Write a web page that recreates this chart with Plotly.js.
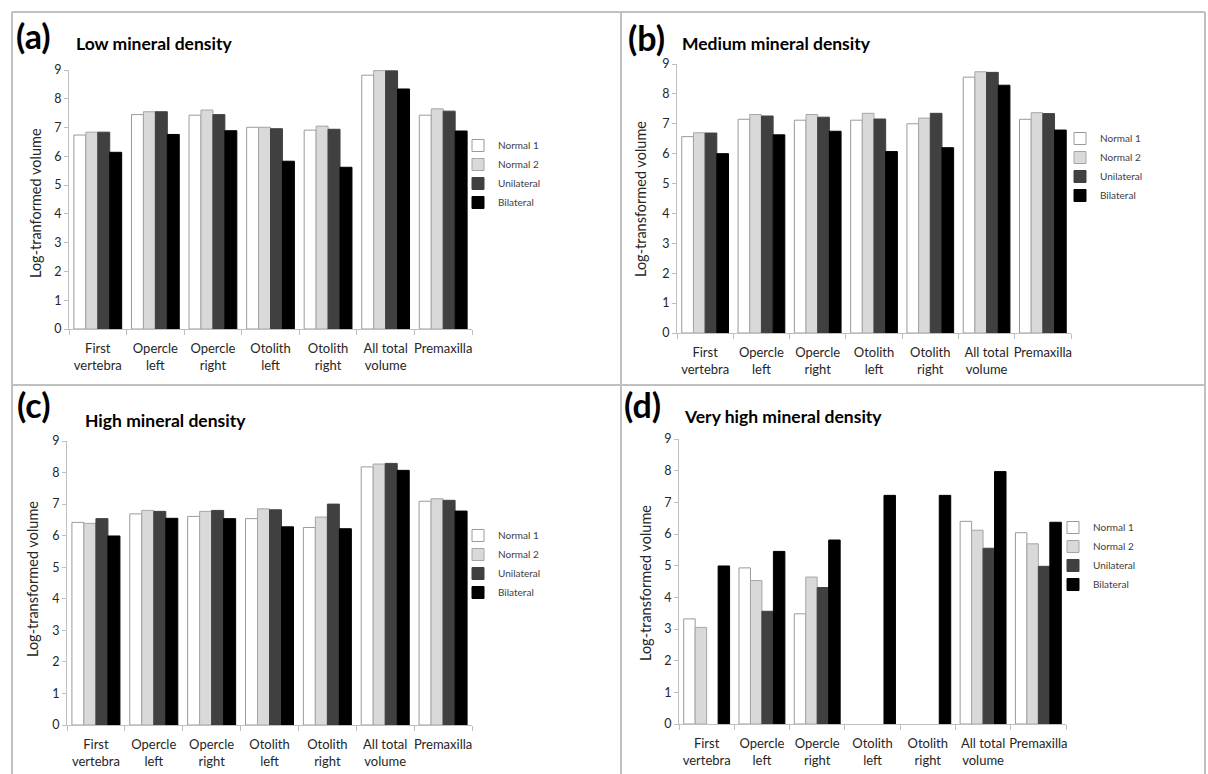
<!DOCTYPE html>
<html>
<head>
<meta charset="utf-8">
<script src="https://cdn.plot.ly/plotly-3.0.1.min.js"></script>
<style>
html,body{margin:0;padding:0;background:#fff;}
#chart{width:1208px;height:774px;}
</style>
</head>
<body>
<div id="chart"></div>
<script>
const categories = ['First<br>vertebra', 'Opercle<br>left', 'Opercle<br>right', 'Otolith<br>left', 'Otolith<br>right', 'All total<br>volume', 'Premaxilla'];
const seriesNames = ['Normal 1', 'Normal 2', 'Unilateral', 'Bilateral'];

const lowN1  = [6.74, 7.45, 7.43, 7.01, 6.91, 8.82, 7.43];
const lowN2  = [6.84, 7.55, 7.61, 7.01, 7.05, 8.98, 7.65];
const lowUni = [6.84, 7.55, 7.45, 6.96, 6.94, 8.97, 7.57];
const lowBi  = [6.14, 6.76, 6.89, 5.83, 5.62, 8.34, 6.88];

const medN1  = [6.57, 7.15, 7.12, 7.12, 7.00, 8.56, 7.15];
const medN2  = [6.70, 7.31, 7.31, 7.35, 7.19, 8.74, 7.37];
const medUni = [6.69, 7.26, 7.22, 7.16, 7.35, 8.72, 7.34];
const medBi  = [6.00, 6.63, 6.75, 6.07, 6.20, 8.29, 6.79];

const highN1  = [6.42, 6.69, 6.61, 6.54, 6.26, 8.18, 7.09];
const highN2  = [6.39, 6.80, 6.77, 6.85, 6.59, 8.27, 7.17];
const highUni = [6.54, 6.77, 6.80, 6.82, 7.00, 8.29, 7.12];
const highBi  = [5.99, 6.55, 6.54, 6.28, 6.22, 8.07, 6.78];

// null = no bar shown in the reference
const vhN1  = [3.32, 4.93, 3.48, null, null, 6.40, 6.04];
const vhN2  = [3.05, 4.53, 4.64, null, null, 6.12, 5.69];
const vhUni = [null, 3.56, 4.31, null, null, 5.55, 4.98];
const vhBi  = [4.99, 5.45, 5.81, 7.22, 7.22, 7.97, 6.37];

const panelLetters = ['(a)', '(b)', '(c)', '(d)'];
const panelTitles = ['Low mineral density', 'Medium mineral density', 'High mineral density', 'Very high mineral density'];
const yTitles = ['Log-tranformed volume', 'Log-transformed volume', 'Log-transformed volume', 'Log-transformed volume'];
const panelData = [
  [lowN1, lowN2, lowUni, lowBi],
  [medN1, medN2, medUni, medBi],
  [highN1, highN2, highUni, highBi],
  [vhN1, vhN2, vhUni, vhBi]
];

const W = 1208, H = 774;
const px = v => v / W;
const py = v => 1 - v / H;

const FONT = 'Lato, "Open Sans", sans-serif';
const fills = ['#ffffff', '#d9d9d9', '#404040', '#000000'];
const lines = ['#9a9a9a', '#a6a6a6', '#404040', '#000000'];

// geometry in pixels: [xLeft, xRight, yBottom(0), yTop(9)]
const geom = [
  [69, 472, 329, 70],
  [677, 1071, 333, 64],
  [67, 472, 725, 441],
  [679, 1066, 724, 439]
];
const legendPos = [[458, 131], [1060, 124], [458, 521], [1053, 513]];
const letterPos = [[33, 35], [646, 37], [33, 404], [642, 404]];
const titlePos = [[74, 43], [680, 44], [83, 420], [682, 416]];
const yTitlePos = [[35, 203], [641, 199], [32, 579], [645, 583]];

const traces = [];
const layout = {
  width: W, height: H,
  margin: {l: 0, r: 0, t: 0, b: 0},
  paper_bgcolor: '#ffffff',
  plot_bgcolor: 'rgba(0,0,0,0)',
  barmode: 'group',
  bargap: 0.17,
  bargroupgap: 0,
  font: {family: FONT, color: '#333333'},
  annotations: [],
  shapes: []
};

panelData.forEach((series, p) => {
  const n = p + 1;
  const xa = 'x' + (n === 1 ? '' : n);
  const ya = 'y' + (n === 1 ? '' : n);
  const lg = 'legend' + (n === 1 ? '' : n);
  series.forEach((vals, s) => {
    traces.push({
      type: 'bar',
      x: categories,
      y: vals,
      name: seriesNames[s],
      xaxis: xa, yaxis: ya,
      legend: lg,
      marker: {color: fills[s], line: {color: lines[s], width: 1}},
      hoverinfo: 'x+y+name'
    });
  });
  const g = geom[p];
  layout['xaxis' + (n === 1 ? '' : n)] = {
    domain: [px(g[0]), px(g[1])],
    anchor: ya,
    type: 'category',
    showline: true, linecolor: '#bfbfbf', linewidth: 1,
    ticks: 'outside', tickson: 'boundaries', ticklen: 5, tickcolor: '#bfbfbf',
    ticklabelstandoff: 7,
    showgrid: false, zeroline: false,
    tickfont: {family: FONT, size: 13, color: '#262626'},
    tickangle: 0
  };
  layout['yaxis' + (n === 1 ? '' : n)] = {
    domain: [py(g[2]), py(g[3])],
    anchor: xa,
    range: [0, 9], dtick: 1,
    showline: true, linecolor: '#bfbfbf', linewidth: 1,
    ticks: 'outside', ticklen: 4, tickcolor: '#bfbfbf',
    showgrid: false, zeroline: false,
    tickfont: {family: FONT, size: 12.5, color: '#262626'}
  };
  layout[lg] = {
    x: px(legendPos[p][0]), y: py(legendPos[p][1]),
    xanchor: 'left', yanchor: 'top',
    bgcolor: 'rgba(0,0,0,0)',
    font: {family: FONT, size: 10, color: '#404040'},
    traceorder: 'normal',
    itemwidth: 30
  };
  layout.annotations.push({
    xref: 'paper', yref: 'paper',
    x: px(letterPos[p][0]), y: py(letterPos[p][1]),
    xanchor: 'center', yanchor: 'middle',
    text: '<b>' + panelLetters[p] + '</b>',
    showarrow: false,
    font: {family: FONT, size: 34, color: '#000000'}
  });
  layout.annotations.push({
    xref: 'paper', yref: 'paper',
    x: px(titlePos[p][0]), y: py(titlePos[p][1]),
    xanchor: 'left', yanchor: 'middle',
    text: '<b>' + panelTitles[p] + '</b>',
    showarrow: false,
    font: {family: FONT, size: 17.5, color: '#000000'}
  });
  layout.annotations.push({
    xref: 'paper', yref: 'paper',
    x: px(yTitlePos[p][0]), y: py(yTitlePos[p][1]),
    xanchor: 'center', yanchor: 'middle',
    text: yTitles[p],
    textangle: -90,
    showarrow: false,
    font: {family: FONT, size: 14.5, color: '#262626'}
  });
});

// panel frame lines
const frameColor = '#c0c0c0';
layout.shapes.push(
  {type: 'line', xref: 'paper', yref: 'paper', x0: px(12), x1: px(1205), y0: py(12), y1: py(12), line: {color: frameColor, width: 2}},
  {type: 'line', xref: 'paper', yref: 'paper', x0: px(12), x1: px(12), y0: py(12), y1: 0, line: {color: frameColor, width: 2}},
  {type: 'line', xref: 'paper', yref: 'paper', x0: px(621), x1: px(621), y0: py(12), y1: 0, line: {color: frameColor, width: 2}},
  {type: 'line', xref: 'paper', yref: 'paper', x0: px(1205), x1: px(1205), y0: py(12), y1: 0, line: {color: frameColor, width: 2}},
  {type: 'line', xref: 'paper', yref: 'paper', x0: px(12), x1: px(1205), y0: py(385), y1: py(385), line: {color: frameColor, width: 2}}
);

Plotly.newPlot('chart', traces, layout, {displayModeBar: false, staticPlot: true});
</script>
</body>
</html>
